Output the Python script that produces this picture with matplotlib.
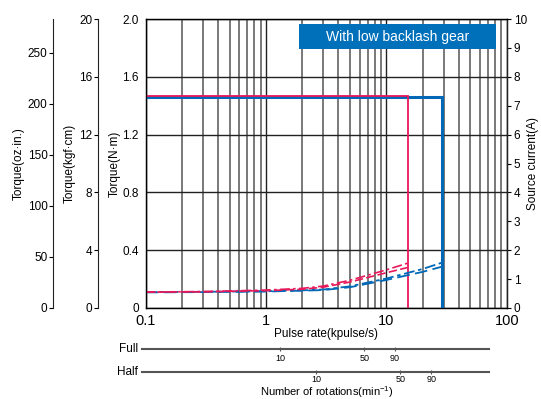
import matplotlib
matplotlib.use("Agg")
import matplotlib.pyplot as plt
from matplotlib.patches import Rectangle
from matplotlib.ticker import FixedLocator, FixedFormatter, NullFormatter

plt.rcParams['font.family'] = ['Liberation Sans', 'DejaVu Sans']

# ---------------- data ----------------
# pulse-out torque (N·m)
pink_torque_x = [0.1, 15, 15]
pink_torque_y = [1.47, 1.47, 0.0]
blue_torque_x = [0.1, 29, 29]
blue_torque_y = [1.46, 1.46, 0.0]

# source current (A)
pink_cur_x = [0.1, 0.3, 1, 2, 3, 5, 10, 15]
pink_cur_a = [0.55, 0.57, 0.62, 0.68, 0.76, 0.96, 1.32, 1.55]
pink_cur_b = [0.55, 0.56, 0.60, 0.65, 0.72, 0.90, 1.22, 1.40]
blue_cur_x = [0.1, 0.3, 1, 2, 3, 5, 10, 20, 29]
blue_cur_a = [0.55, 0.56, 0.58, 0.61, 0.64, 0.75, 1.02, 1.35, 1.57]
blue_cur_b = [0.54, 0.55, 0.57, 0.60, 0.62, 0.72, 0.97, 1.25, 1.43]

x_ticks = [0.1, 1, 10, 100]
x_tick_labels = ["0.1", "1", "10", "100"]
nm_ticks = [0, 0.4, 0.8, 1.2, 1.6, 2.0]
nm_labels = ["0", "0.4", "0.8", "1.2", "1.6", "2.0"]
kgf_ticks = [0, 4, 8, 12, 16, 20]
oz_ticks = [0, 50, 100, 150, 200, 250]
cur_ticks = list(range(0, 11))
rot_ticks = [10, 50, 90]
kpps_per_rpm_full = 0.131
kpps_per_rpm_half = 0.262

PINK = "#E8185A"
BLUE = "#0068B7"
LEG_BLUE = "#0070BA"

W, H = 541, 399
fig = plt.figure(figsize=(W / 100, H / 100), dpi=100)

def fx(px):
    return px / W

def fy(py):
    return 1 - py / H

L, R, T, B = 145.7, 506.7, 19.0, 308.0

def place_ylabel(axis_obj, xpx):
    axis_obj.yaxis.set_label_coords((xpx - L) / (R - L), 0.5)
    axis_obj.yaxis.label.set_verticalalignment('center')
    axis_obj.yaxis.label.set_horizontalalignment('center')

ax = fig.add_axes([fx(L), fy(B), fx(R - L), fy(T) - fy(B)])
ax.set_xscale('log')
ax.set_xlim(0.1, 100)
ax.set_ylim(0, 2.0)
ax.xaxis.set_major_locator(FixedLocator(x_ticks))
ax.xaxis.set_major_formatter(FixedFormatter(x_tick_labels))
ax.xaxis.set_minor_formatter(NullFormatter())
ax.set_yticks(nm_ticks)
ax.set_yticklabels(nm_labels)
ax.tick_params(axis='x', which='both', length=0, pad=4.5, labelsize=10.5)
ax.tick_params(axis='y', length=0, pad=5, labelsize=8.5)
ax.grid(True, which='major', axis='both', color='#222222', lw=1.0)
ax.grid(True, which='minor', axis='x', color='#555555', lw=1.1)
for s in ax.spines.values():
    s.set_color('#222222')
    s.set_linewidth(1.0)
ax.set_axisbelow(True)
ax.set_xlabel("Pulse rate(kpulse/s)", fontsize=8.5, labelpad=0)
ax.set_ylabel("Torque(N·m)", fontsize=8.5)
place_ylabel(ax, 115)

ax.plot(blue_torque_x, blue_torque_y, color=BLUE, lw=2.2, solid_joinstyle='miter', zorder=3)
ax.plot(pink_torque_x, pink_torque_y, color=PINK, lw=1.3, solid_joinstyle='miter', zorder=4)

# current axis
axc = ax.twinx()
axc.set_ylim(0, 10)
axc.set_yticks(cur_ticks)
axc.tick_params(axis='y', length=3, width=0.8, pad=2, labelsize=8.5, direction='out')
axc.spines['right'].set_color('#222222')
axc.set_ylabel("Source current(A)", fontsize=8.5)
place_ylabel(axc, 533)
axc.plot(blue_cur_x, blue_cur_a, color=BLUE, lw=1.3, dashes=(6, 2, 2, 2))
axc.plot(blue_cur_x, blue_cur_b, color=BLUE, lw=1.3, dashes=(7, 3))
axc.plot(pink_cur_x, pink_cur_a, color=PINK, lw=1.2, dashes=(6, 2, 1.5, 2))
axc.plot(pink_cur_x, pink_cur_b, color=PINK, lw=1.2, dashes=(5, 2))

# kgf·cm axis
axk = ax.twinx()
axk.yaxis.tick_left()
axk.yaxis.set_label_position('left')
axk.set_ylim(0, 20)
axk.set_yticks(kgf_ticks)
for k in ['right', 'top', 'bottom']:
    axk.spines[k].set_visible(False)
axk.spines['left'].set_position(('outward', (L - 98) * 0.72))
axk.spines['left'].set_color('#222222')
axk.tick_params(axis='y', length=3, width=0.8, pad=1, labelsize=8.5)
axk.set_ylabel("Torque(kgf·cm)", fontsize=8.5)
place_ylabel(axk, 70)
axk.patch.set_visible(False)

# oz·in axis
axo = ax.twinx()
axo.yaxis.tick_left()
axo.yaxis.set_label_position('left')
axo.set_ylim(0, 2.0 / 0.00706155)
axo.set_yticks(oz_ticks)
for k in ['right', 'top', 'bottom']:
    axo.spines[k].set_visible(False)
axo.spines['left'].set_position(('outward', (L - 53) * 0.72))
axo.spines['left'].set_color('#222222')
axo.tick_params(axis='y', length=3, width=0.8, pad=1, labelsize=8.5)
axo.set_ylabel("Torque(oz·in.)", fontsize=8.5)
place_ylabel(axo, 19)
axo.patch.set_visible(False)

# legend box
fig.patches.append(Rectangle((fx(299), fy(49)), fx(496 - 299), fy(24) - fy(49),
                             transform=fig.transFigure, fc=LEG_BLUE, ec='none', zorder=5))
fig.text(fx(397.5), fy(36.5), "With low backlash gear", ha='center', va='center',
         color='white', fontsize=10, zorder=6)

# rotation scales
x0, x1 = 142, 489
lo = 10 ** ((x0 - L) / ((R - L) / 3) - 1)
hi = 10 ** ((x1 - L) / ((R - L) / 3) - 1)
for ypx, name, k, pd in [(349, "Full", kpps_per_rpm_full, 2), (372, "Half", kpps_per_rpm_half, 1)]:
    a = fig.add_axes([fx(x0), fy(ypx), fx(x1 - x0), 0.0001])
    a.set_xscale('log')
    a.set_xlim(lo, hi)
    a.set_yticks([])
    for s in ['left', 'right', 'top']:
        a.spines[s].set_visible(False)
    a.spines['bottom'].set_color('#555555')
    a.spines['bottom'].set_linewidth(1.5)
    a.xaxis.set_major_locator(FixedLocator([r * k for r in rot_ticks]))
    a.xaxis.set_major_formatter(FixedFormatter([str(r) for r in rot_ticks]))
    a.xaxis.set_minor_locator(FixedLocator([]))
    a.tick_params(axis='x', length=3, width=0.8, direction='inout', labelsize=6.5, pad=pd, color='#555555')
    a.patch.set_visible(False)
    fig.text(fx(x0 - 4), fy(ypx), name, ha='right', va='center', fontsize=8.5)

fig.text(fx(327), fy(392.5), r"Number of rotations(min$^{\mathregular{-1}}$)", ha='center', va='center', fontsize=8)

fig.savefig("out.png", dpi=100)
